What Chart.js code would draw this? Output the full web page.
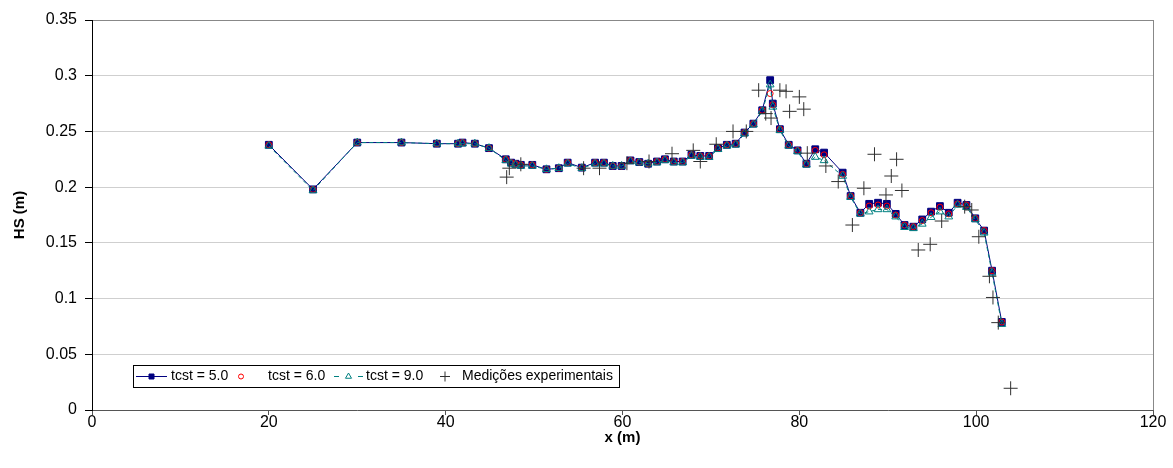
<!DOCTYPE html>
<html>
<head>
<meta charset="utf-8">
<script src="https://cdn.jsdelivr.net/npm/chart.js@4.4.1/dist/chart.umd.min.js"></script>
<style>
  html, body { margin: 0; padding: 0; background: #fff; }
  #wrap { width: 1173px; height: 468px; }
</style>
</head>
<body>
<div id="wrap"><canvas id="chart" width="1173" height="468"></canvas></div>
<script>
// --- data ---
const seriesNames = ['tcst = 5.0', 'tcst = 6.0', 'tcst = 9.0', 'Medições experimentais'];

const xSim = [20, 25, 30, 35, 39, 41.4, 41.9, 43.3, 44.9, 46.8, 47.4, 47.9, 48.5, 49.8, 51.4, 52.8, 53.8,
  55.4, 56.9, 57.9, 58.9, 59.9, 60.9, 61.9, 62.9, 63.9, 64.8, 65.8, 66.8, 67.8, 68.8, 69.8, 70.8,
  71.8, 72.8, 73.8, 74.8, 75.8, 76.7, 77.0, 77.8, 78.8, 79.8, 80.8, 81.8, 82.8, 84.9, 85.8, 86.9,
  87.9, 88.9, 89.9, 90.9, 91.9, 92.9, 93.9, 94.9, 95.9, 96.9, 97.9, 98.9, 99.9, 100.9, 101.8, 102.9];

const hsTcst5 = [0.238, 0.198, 0.240, 0.240, 0.239, 0.239, 0.240, 0.239, 0.235, 0.225, 0.222, 0.221, 0.220,
  0.220, 0.216, 0.217, 0.222, 0.2175, 0.222, 0.222, 0.219, 0.219, 0.224, 0.2225, 0.221, 0.223, 0.225,
  0.223, 0.223, 0.229, 0.228, 0.228, 0.235, 0.238, 0.239, 0.249, 0.257, 0.269, 0.296, 0.275, 0.252,
  0.238, 0.233, 0.221, 0.234, 0.231, 0.213, 0.192, 0.177, 0.185, 0.186, 0.185, 0.176, 0.166, 0.1645,
  0.171, 0.178, 0.183, 0.177, 0.186, 0.184, 0.172, 0.161, 0.125, 0.079];

const hsTcst6 = [0.238, 0.198, 0.240, 0.240, 0.239, 0.239, 0.240, 0.239, 0.235, 0.225, 0.222, 0.221, 0.220,
  0.220, 0.216, 0.217, 0.222, 0.2175, 0.222, 0.222, 0.219, 0.219, 0.224, 0.2225, 0.221, 0.223, 0.225,
  0.223, 0.223, 0.229, 0.228, 0.228, 0.235, 0.238, 0.239, 0.249, 0.257, 0.269, 0.284, 0.274, 0.252,
  0.238, 0.233, 0.221, 0.233, 0.229, 0.2115, 0.192, 0.177, 0.183, 0.184, 0.183, 0.175, 0.166, 0.1645,
  0.170, 0.177, 0.182, 0.176, 0.185, 0.184, 0.172, 0.161, 0.125, 0.079];

const hsTcst9 = [0.237, 0.197, 0.240, 0.240, 0.239, 0.239, 0.239, 0.239, 0.235, 0.224, 0.221, 0.220, 0.219,
  0.219, 0.216, 0.217, 0.221, 0.217, 0.221, 0.221, 0.219, 0.219, 0.223, 0.222, 0.221, 0.222, 0.224,
  0.222, 0.222, 0.228, 0.227, 0.227, 0.234, 0.237, 0.238, 0.248, 0.256, 0.268, 0.292, 0.272, 0.251,
  0.237, 0.232, 0.220, 0.227, 0.224, 0.210, 0.191, 0.176, 0.178, 0.180, 0.180, 0.1735, 0.164, 0.163,
  0.167, 0.173, 0.178, 0.1735, 0.184, 0.182, 0.171, 0.159, 0.123, 0.077];

const xExp = [46.9, 47.2, 48.5, 55.6, 57.4, 60.5, 63.0, 65.6, 68.0, 68.8, 70.6, 72.5, 74.0, 75.4, 76.2,
  76.8, 77.8, 78.5, 78.9, 80.0, 80.5, 80.9, 83.0, 84.4, 86.0, 87.3, 88.5, 89.8, 90.4, 91.0, 91.6,
  93.45, 94.8, 96.1, 98.7, 99.5, 100.3, 101.5, 101.9, 102.5, 103.9];
const hsExp = [0.209, 0.217, 0.2205, 0.217, 0.217, 0.2215, 0.223, 0.230, 0.233, 0.223, 0.2385, 0.250, 0.250,
  0.287, 0.266, 0.262, 0.287, 0.286, 0.268, 0.281, 0.270, 0.2305, 0.219, 0.205, 0.166, 0.199, 0.2295,
  0.193, 0.210, 0.225, 0.197, 0.1436, 0.1487, 0.1696, 0.1825, 0.1795, 0.1555, 0.120, 0.101, 0.0784, 0.0195];

const xTicks = [0, 20, 40, 60, 80, 100, 120];
const yTicks = [0, 0.05, 0.1, 0.15, 0.2, 0.25, 0.3, 0.35];

const pts = (xs, ys) => xs.map((x, i) => ({ x: x, y: ys[i] }));

const NAVY = '#000080', RED = '#ff0000', TEAL = '#008080', CROSS = '#303030';
const FONT = '"Liberation Sans", Arial, sans-serif';

// small marker painter for the legend
function mark(ctx, style, x, y, r, stroke, fill) {
  ctx.beginPath();
  if (style === 'rect') {
    ctx.rect(x - r, y - r, 2 * r, 2 * r);
  } else if (style === 'circle') {
    ctx.arc(x, y, r, 0, Math.PI * 2);
  } else if (style === 'triangle') {
    ctx.moveTo(x, y - r);
    ctx.lineTo(x + r * 0.866, y + r * 0.5);
    ctx.lineTo(x - r * 0.866, y + r * 0.5);
    ctx.closePath();
  } else if (style === 'cross') {
    ctx.moveTo(x - r, y); ctx.lineTo(x + r, y);
    ctx.moveTo(x, y - r); ctx.lineTo(x, y + r);
  }
  if (fill) { ctx.fillStyle = fill; ctx.fill(); }
  ctx.strokeStyle = stroke;
  ctx.lineWidth = 1;
  ctx.stroke();
}

// legend box sitting inside the plot, bottom-left
const legendBox = {
  id: 'legendBox',
  afterDraw(chart) {
    const { ctx, chartArea } = chart;
    const x0 = chartArea.left + 41, y0 = chartArea.bottom - 45, w = 486, h = 22;
    const cy = y0 + h / 2 + 0.5;
    const names = chart.data.datasets.map(d => d.label);
    ctx.save();
    ctx.fillStyle = '#fff';
    ctx.fillRect(x0, y0, w, h);
    ctx.strokeStyle = '#000';
    ctx.lineWidth = 1;
    ctx.strokeRect(x0 + 0.5, y0 + 0.5, w, h);

    // tcst = 5.0 : line + filled square
    ctx.strokeStyle = NAVY;
    ctx.beginPath(); ctx.moveTo(x0 + 3, cy); ctx.lineTo(x0 + 34, cy); ctx.stroke();
    mark(ctx, 'rect', x0 + 18.5, cy, 2.5, NAVY, NAVY);
    // tcst = 6.0 : hollow red circle
    mark(ctx, 'circle', x0 + 108, cy, 2.5, RED, null);
    // tcst = 9.0 : one teal dash either side of a triangle
    ctx.strokeStyle = TEAL;
    ctx.beginPath();
    ctx.moveTo(x0 + 201, cy); ctx.lineTo(x0 + 206, cy);
    ctx.moveTo(x0 + 225, cy); ctx.lineTo(x0 + 230, cy);
    ctx.stroke();
    mark(ctx, 'triangle', x0 + 215.5, cy, 3.5, TEAL, '#fff');
    // experimental : cross
    mark(ctx, 'cross', x0 + 312, cy, 5, CROSS, null);

    ctx.font = '14px ' + FONT;
    ctx.fillStyle = '#000';
    ctx.textBaseline = 'middle';
    ctx.textAlign = 'left';
    ctx.fillText(names[0], x0 + 38, cy);
    ctx.fillText(names[1], x0 + 135, cy);
    ctx.fillText(names[2], x0 + 233, cy);
    ctx.fillText(names[3], x0 + 329, cy);
    ctx.restore();
  }
};

new Chart(document.getElementById('chart'), {
  type: 'scatter',
  data: {
    datasets: [
      {
        label: seriesNames[0], data: pts(xSim, hsTcst5), showLine: true,
        borderColor: NAVY, borderWidth: 1, backgroundColor: NAVY,
        pointStyle: 'rect', pointRadius: 4.8, pointBorderWidth: 1,
        pointBackgroundColor: NAVY, pointBorderColor: NAVY, order: 3
      },
      {
        label: seriesNames[1], data: pts(xSim, hsTcst6), showLine: false,
        pointStyle: 'circle', pointRadius: 3, pointBorderWidth: 1,
        pointBackgroundColor: 'rgba(0,0,0,0)', pointBorderColor: RED, order: 2
      },
      {
        label: seriesNames[2], data: pts(xSim, hsTcst9), showLine: true,
        borderColor: TEAL, borderWidth: 1, borderDash: [4, 3],
        pointStyle: 'triangle', pointRadius: 4.5, pointBorderWidth: 1,
        pointBackgroundColor: 'rgba(0,0,0,0)', pointBorderColor: TEAL, order: 1
      },
      {
        label: seriesNames[3], data: pts(xExp, hsExp), showLine: false,
        pointStyle: 'cross', pointRadius: 7, pointBorderWidth: 1,
        pointBorderColor: CROSS, order: 0
      }
    ]
  },
  options: {
    responsive: false,
    animation: false,
    devicePixelRatio: 1,
    layout: { padding: { top: 20, right: 20, left: 0, bottom: 0 } },
    plugins: { legend: { display: false }, tooltip: { enabled: false } },
    scales: {
      x: {
        type: 'linear', min: 0, max: 120,
        afterBuildTicks: s => { s.ticks = xTicks.map(v => ({ value: v })); },
        afterFit: s => { s.height = 58; },
        ticks: { color: '#000', font: { family: FONT, size: 16 }, padding: -2, maxRotation: 0 },
        grid: {
          color: c => c.tick && c.tick.value === 120 ? '#888' : 'rgba(0,0,0,0)',
          tickColor: '#555', tickLength: 5, lineWidth: 1
        },
        border: { color: '#555', width: 1 },
        title: { display: true, text: 'x (m)', color: '#000',
          font: { family: FONT, size: 15, weight: 'bold' }, padding: { top: 0, bottom: 21 } }
      },
      y: {
        type: 'linear', min: 0, max: 0.35,
        afterBuildTicks: s => { s.ticks = yTicks.map(v => ({ value: v })); },
        afterFit: s => { s.width = 92; },
        ticks: { color: '#000', font: { family: FONT, size: 16 }, padding: 8,
          callback: v => String(Number(v.toFixed(2))) },
        grid: {
          color: c => c.tick && c.tick.value === 0.35 ? '#888' : '#cfcfcf',
          tickColor: '#000', tickLength: 7, lineWidth: 1
        },
        border: { color: '#000', width: 1 },
        title: { display: true, text: 'HS (m)', color: '#000',
          font: { family: FONT, size: 15, weight: 'bold' }, padding: { top: 11, bottom: 0 } }
      }
    }
  },
  plugins: [legendBox]
});
</script>
</body>
</html>
